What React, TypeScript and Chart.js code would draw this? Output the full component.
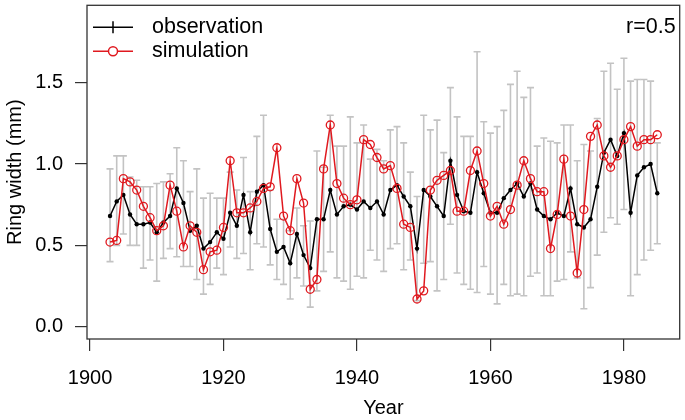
import React, { useEffect, useRef } from "react";
import { Chart, registerables } from "chart.js";
Chart.register(...registerables);

const years = [
  1903, 1904, 1905, 1906, 1907, 1908, 1909, 1910, 1911, 1912, 1913, 1914, 1915, 1916, 1917, 1918, 1919, 1920,
  1921, 1922, 1923, 1924, 1925, 1926, 1927, 1928, 1929, 1930, 1931, 1932, 1933, 1934, 1935, 1936, 1937, 1938,
  1939, 1940, 1941, 1942, 1943, 1944, 1945, 1946, 1947, 1948, 1949, 1950, 1951, 1952, 1953, 1954, 1955, 1956,
  1957, 1958, 1959, 1960, 1961, 1962, 1963, 1964, 1965, 1966, 1967, 1968, 1969, 1970, 1971, 1972, 1973, 1974,
  1975, 1976, 1977, 1978, 1979, 1980, 1981, 1982, 1983, 1984, 1985,
];

const observation = [
  0.68, 0.77, 0.81, 0.69, 0.63, 0.63, 0.64, 0.58, 0.64, 0.68, 0.85, 0.76, 0.59, 0.62, 0.48, 0.52, 0.58, 0.54,
  0.70, 0.62, 0.81, 0.58, 0.83, 0.87, 0.60, 0.46, 0.49, 0.39, 0.57, 0.44, 0.36, 0.66, 0.66, 0.84, 0.69, 0.74,
  0.75, 0.72, 0.77, 0.73, 0.77, 0.69, 0.84, 0.87, 0.80, 0.74, 0.48, 0.84, 0.80, 0.74, 0.68, 1.02, 0.81, 0.71,
  0.70, 0.95, 0.82, 0.70, 0.70, 0.79, 0.84, 0.88, 0.80, 0.88, 0.72, 0.68, 0.66, 0.70, 0.68, 0.85, 0.63, 0.61,
  0.66, 0.86, 1.07, 1.15, 1.05, 1.19, 0.70, 0.93, 0.98, 1.00, 0.82,
];

const observationLow = [
  0.40, 0.50, 0.57, 0.50, 0.50, 0.36, 0.41, 0.28, 0.42, 0.48, 0.43, 0.37, 0.37, 0.29, 0.20, 0.26, 0.36, 0.32,
  0.49, 0.42, 0.45, 0.35, 0.51, 0.49, 0.38, 0.29, 0.26, 0.17, 0.30, 0.25, 0.12, 0.22, 0.34, 0.46, 0.30, 0.28,
  0.23, 0.31, 0.30, 0.47, 0.41, 0.34, 0.48, 0.51, 0.35, 0.41, 0.16, 0.39, 0.40, 0.22, 0.29, 0.63, 0.33, 0.26,
  0.23, 0.21, 0.37, 0.20, 0.14, 0.26, 0.19, 0.20, 0.19, 0.31, 0.33, 0.19, 0.19, 0.28, 0.29, 0.46, 0.30, 0.11,
  0.24, 0.44, 0.58, 0.67, 0.63, 0.72, 0.19, 0.32, 0.41, 0.47, 0.51,
];

const observationHigh = [
  0.97, 1.05, 1.05, 0.92, 0.90, 0.86, 0.86, 0.88, 0.89, 0.94, 1.10, 1.02, 0.83, 0.97, 0.79, 0.82, 0.79, 0.79,
  0.95, 0.84, 1.04, 0.83, 1.17, 1.30, 0.84, 0.66, 0.66, 0.59, 0.73, 0.62, 0.65, 1.08, 0.98, 1.30, 1.11, 1.11,
  1.29, 1.13, 1.24, 1.03, 1.09, 1.02, 1.21, 1.23, 1.13, 0.95, 0.80, 1.30, 1.21, 1.27, 1.07, 1.47, 1.29, 1.17,
  1.17, 1.69, 1.26, 1.19, 1.23, 1.33, 1.49, 1.57, 1.41, 1.47, 1.11, 1.16, 1.14, 1.13, 1.24, 1.24, 1.02, 1.12,
  1.08, 1.28, 1.57, 1.62, 1.46, 1.65, 1.51, 1.52, 1.52, 1.51, 1.13,
];

const simulation = [
  0.52, 0.53, 0.91, 0.89, 0.84, 0.74, 0.67, 0.59, 0.62, 0.87, 0.71, 0.49, 0.62, 0.58, 0.35, 0.46, 0.47, 0.61,
  1.02, 0.70, 0.70, 0.73, 0.77, 0.85, 0.86, 1.10, 0.68, 0.59, 0.91, 0.76, 0.23, 0.29, 0.97, 1.24, 0.88, 0.79,
  0.75, 0.78, 1.15, 1.12, 1.04, 0.97, 0.99, 0.85, 0.63, 0.61, 0.17, 0.22, 0.84, 0.90, 0.93, 0.96, 0.71, 0.71,
  0.96, 1.08, 0.88, 0.68, 0.74, 0.63, 0.72, 0.87, 1.02, 0.91, 0.83, 0.83, 0.48, 0.69, 1.03, 0.68, 0.33, 0.72,
  1.17, 1.24, 1.05, 0.98, 1.05, 1.15, 1.23, 1.11, 1.15, 1.15, 1.18,
];

const xTicks = [1900, 1920, 1940, 1960, 1980];
const yTicks = [0, 0.5, 1.0, 1.5];
const seriesLabels = ["observation", "simulation"];
const annotationText = "r=0.5";
const xTitle = "Year";
const yTitle = "Ring width (mm)";

const FONT = "'Liberation Sans', Arial, Helvetica, sans-serif";
const RED = "#e0191f";
const GREY = "#c3c3c3";
const FRAME = "#333333";

const errorBarPlugin = {
  id: "errorBars",
  beforeDatasetsDraw(chart: any) {
    const { ctx, scales } = chart;
    const x = scales.x;
    const y = scales.y;
    ctx.save();
    ctx.strokeStyle = GREY;
    ctx.lineWidth = 1.6;
    years.forEach((yr, i) => {
      const px = x.getPixelForValue(yr);
      const lo = y.getPixelForValue(observationLow[i]);
      const hi = y.getPixelForValue(observationHigh[i]);
      ctx.beginPath();
      ctx.moveTo(px, lo);
      ctx.lineTo(px, hi);
      ctx.moveTo(px - 3.5, lo);
      ctx.lineTo(px + 3.5, lo);
      ctx.moveTo(px - 3.5, hi);
      ctx.lineTo(px + 3.5, hi);
      ctx.stroke();
    });
    ctx.restore();
  },
};

const framePlugin = {
  id: "frameAndLegend",
  afterDraw(chart: any) {
    const { ctx, chartArea } = chart;
    const { left, top, right, bottom } = chartArea;
    ctx.save();
    ctx.strokeStyle = FRAME;
    ctx.lineWidth = 1.3;
    ctx.strokeRect(left, top, right - left, bottom - top);

    // legend
    const lx0 = left + 6;
    const lx1 = left + 46;
    const lxm = (lx0 + lx1) / 2;
    const row1 = top + 22;
    const row2 = top + 46;
    ctx.lineWidth = 1.5;
    ctx.strokeStyle = "#000";
    ctx.beginPath();
    ctx.moveTo(lx0, row1);
    ctx.lineTo(lx1, row1);
    ctx.moveTo(lxm, row1 - 6);
    ctx.lineTo(lxm, row1 + 6);
    ctx.stroke();
    ctx.strokeStyle = RED;
    ctx.beginPath();
    ctx.moveTo(lx0, row2);
    ctx.lineTo(lx1, row2);
    ctx.stroke();
    ctx.beginPath();
    ctx.arc(lxm, row2, 4.5, 0, Math.PI * 2);
    ctx.fillStyle = "#fff";
    ctx.fill();
    ctx.stroke();

    ctx.fillStyle = "#000";
    ctx.font = `21.5px ${FONT}`;
    ctx.textBaseline = "middle";
    ctx.textAlign = "left";
    ctx.fillText(seriesLabels[0], left + 65, row1);
    ctx.fillText(seriesLabels[1], left + 65, row2);

    ctx.textAlign = "right";
    ctx.fillText(annotationText, right - 4, row1);
    ctx.restore();
  },
};

export default function App() {
  const canvasRef = useRef<HTMLCanvasElement | null>(null);

  useEffect(() => {
    const canvas = canvasRef.current;
    if (!canvas) return;
    const chart = new Chart(canvas, {
      type: "line",
      data: {
        datasets: [
          {
            label: seriesLabels[1],
            data: years.map((yr, i) => ({ x: yr, y: simulation[i] })),
            borderColor: RED,
            borderWidth: 1.5,
            pointRadius: 4,
            pointBorderWidth: 1.3,
            pointBorderColor: RED,
            pointBackgroundColor: "rgba(0,0,0,0)",
            tension: 0,
            order: 0,
          },
          {
            label: seriesLabels[0],
            data: years.map((yr, i) => ({ x: yr, y: observation[i] })),
            borderColor: "#000",
            borderWidth: 1.5,
            pointRadius: 2.2,
            pointBorderWidth: 0,
            pointBackgroundColor: "#000",
            tension: 0,
            order: 1,
          },
        ],
      },
      options: {
        animation: false,
        responsive: false,
        devicePixelRatio: 1,
        layout: { padding: { top: 3, right: 3, left: 0, bottom: 0 } },
        plugins: { legend: { display: false }, tooltip: { enabled: false } },
        scales: {
          x: {
            type: "linear",
            min: 1899.55,
            max: 1988.36,
            afterBuildTicks: (scale: any) => {
              scale.ticks = xTicks.map((v) => ({ value: v }));
            },
            afterFit: (scale: any) => {
              scale.height = 81;
              scale.paddingLeft = 0;
              scale.paddingRight = 0;
            },
            border: { display: false },
            grid: { display: true, drawOnChartArea: false, drawTicks: true, tickLength: 12, color: FRAME, lineWidth: 1.2 },
            ticks: {
              color: "#000",
              font: { family: FONT, size: 20 },
              padding: 15,
              maxRotation: 0,
              autoSkip: false,
              callback: (v: any) => String(v),
            },
            title: {
              display: true,
              text: xTitle,
              color: "#000",
              font: { family: FONT, size: 20 },
              padding: { top: 0, bottom: 0 },
            },
          },
          y: {
            type: "linear",
            min: -0.076,
            max: 1.976,
            afterBuildTicks: (scale: any) => {
              scale.ticks = yTicks.map((v) => ({ value: v }));
            },
            afterFit: (scale: any) => {
              scale.width = 87;
              scale.paddingTop = 0;
              scale.paddingBottom = 0;
            },
            border: { display: false },
            grid: { display: true, drawOnChartArea: false, drawTicks: true, tickLength: 12, color: FRAME, lineWidth: 1.2 },
            ticks: {
              color: "#000",
              font: { family: FONT, size: 20 },
              padding: 12,
              callback: (v: any) => Number(v).toFixed(1),
            },
            title: {
              display: true,
              text: yTitle,
              color: "#000",
              font: { family: FONT, size: 20 },
              padding: { top: 3, bottom: 0 },
            },
          },
        },
      },
      plugins: [errorBarPlugin, framePlugin],
    } as any);
    return () => chart.destroy();
  }, []);

  return (
    <div style={{ position: "fixed", left: 0, top: 0, width: 685, height: 420, background: "#fff" }}>
      <canvas ref={canvasRef} width={685} height={420} style={{ display: "block", width: 685, height: 420 }} />
    </div>
  );
}
